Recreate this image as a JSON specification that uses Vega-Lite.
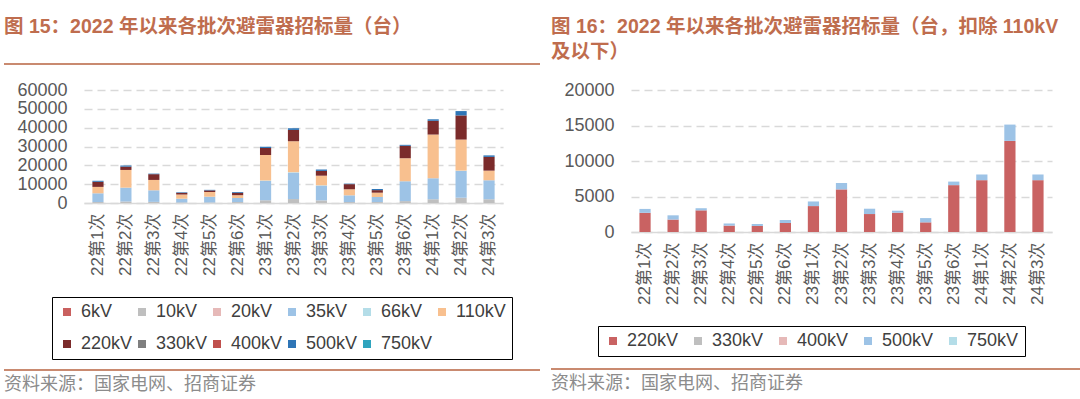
{
  "$schema": "https://vega.github.io/schema/vega-lite/v6.json",
  "background": "white",
  "padding": {"left": 4, "top": 16, "right": 0, "bottom": 0},
  "config": {
    "view": {"stroke": null},
    "font": "Liberation Sans, Noto Sans CJK SC"
  },
  "datasets": {
    "tb": [
      {"batch": "22第1次", "level": "10kV", "kv": 10, "value": 500},
      {"batch": "22第1次", "level": "35kV", "kv": 35, "value": 4650},
      {"batch": "22第1次", "level": "110kV", "kv": 110, "value": 3400},
      {"batch": "22第1次", "level": "220kV", "kv": 220, "value": 2700},
      {"batch": "22第1次", "level": "500kV", "kv": 500, "value": 550},
      {"batch": "22第2次", "level": "10kV", "kv": 10, "value": 800},
      {"batch": "22第2次", "level": "35kV", "kv": 35, "value": 7350},
      {"batch": "22第2次", "level": "110kV", "kv": 110, "value": 9400},
      {"batch": "22第2次", "level": "220kV", "kv": 220, "value": 1750},
      {"batch": "22第2次", "level": "500kV", "kv": 500, "value": 600},
      {"batch": "22第3次", "level": "10kV", "kv": 10, "value": 600},
      {"batch": "22第3次", "level": "35kV", "kv": 35, "value": 6150},
      {"batch": "22第3次", "level": "110kV", "kv": 110, "value": 5500},
      {"batch": "22第3次", "level": "220kV", "kv": 220, "value": 3050},
      {"batch": "22第3次", "level": "500kV", "kv": 500, "value": 300},
      {"batch": "22第4次", "level": "10kV", "kv": 10, "value": 300},
      {"batch": "22第4次", "level": "35kV", "kv": 35, "value": 2000},
      {"batch": "22第4次", "level": "110kV", "kv": 110, "value": 2200},
      {"batch": "22第4次", "level": "220kV", "kv": 220, "value": 900},
      {"batch": "22第4次", "level": "500kV", "kv": 500, "value": 300},
      {"batch": "22第5次", "level": "10kV", "kv": 10, "value": 300},
      {"batch": "22第5次", "level": "35kV", "kv": 35, "value": 3050},
      {"batch": "22第5次", "level": "110kV", "kv": 110, "value": 2500},
      {"batch": "22第5次", "level": "220kV", "kv": 220, "value": 850},
      {"batch": "22第5次", "level": "500kV", "kv": 500, "value": 280},
      {"batch": "22第6次", "level": "10kV", "kv": 10, "value": 500},
      {"batch": "22第6次", "level": "35kV", "kv": 35, "value": 2150},
      {"batch": "22第6次", "level": "110kV", "kv": 110, "value": 1500},
      {"batch": "22第6次", "level": "220kV", "kv": 220, "value": 1270},
      {"batch": "22第6次", "level": "500kV", "kv": 500, "value": 420},
      {"batch": "23第1次", "level": "10kV", "kv": 10, "value": 1400},
      {"batch": "23第1次", "level": "35kV", "kv": 35, "value": 10300},
      {"batch": "23第1次", "level": "66kV", "kv": 66, "value": 200},
      {"batch": "23第1次", "level": "110kV", "kv": 110, "value": 13650},
      {"batch": "23第1次", "level": "220kV", "kv": 220, "value": 3650},
      {"batch": "23第1次", "level": "500kV", "kv": 500, "value": 650},
      {"batch": "23第2次", "level": "10kV", "kv": 10, "value": 2100},
      {"batch": "23第2次", "level": "35kV", "kv": 35, "value": 14000},
      {"batch": "23第2次", "level": "66kV", "kv": 66, "value": 250},
      {"batch": "23第2次", "level": "110kV", "kv": 110, "value": 16450},
      {"batch": "23第2次", "level": "220kV", "kv": 220, "value": 6000},
      {"batch": "23第2次", "level": "500kV", "kv": 500, "value": 900},
      {"batch": "23第3次", "level": "10kV", "kv": 10, "value": 1400},
      {"batch": "23第3次", "level": "35kV", "kv": 35, "value": 7800},
      {"batch": "23第3次", "level": "66kV", "kv": 66, "value": 200},
      {"batch": "23第3次", "level": "110kV", "kv": 110, "value": 5100},
      {"batch": "23第3次", "level": "220kV", "kv": 220, "value": 2530},
      {"batch": "23第3次", "level": "500kV", "kv": 500, "value": 750},
      {"batch": "23第4次", "level": "10kV", "kv": 10, "value": 500},
      {"batch": "23第4次", "level": "35kV", "kv": 35, "value": 3580},
      {"batch": "23第4次", "level": "110kV", "kv": 110, "value": 3200},
      {"batch": "23第4次", "level": "220kV", "kv": 220, "value": 2720},
      {"batch": "23第4次", "level": "500kV", "kv": 500, "value": 280},
      {"batch": "23第5次", "level": "10kV", "kv": 10, "value": 500},
      {"batch": "23第5次", "level": "35kV", "kv": 35, "value": 2690},
      {"batch": "23第5次", "level": "110kV", "kv": 110, "value": 2290},
      {"batch": "23第5次", "level": "220kV", "kv": 220, "value": 1360},
      {"batch": "23第5次", "level": "500kV", "kv": 500, "value": 600},
      {"batch": "23第6次", "level": "10kV", "kv": 10, "value": 1000},
      {"batch": "23第6次", "level": "35kV", "kv": 35, "value": 10550},
      {"batch": "23第6次", "level": "110kV", "kv": 110, "value": 12230},
      {"batch": "23第6次", "level": "220kV", "kv": 220, "value": 6600},
      {"batch": "23第6次", "level": "500kV", "kv": 500, "value": 500},
      {"batch": "24第1次", "level": "10kV", "kv": 10, "value": 2000},
      {"batch": "24第1次", "level": "35kV", "kv": 35, "value": 11140},
      {"batch": "24第1次", "level": "110kV", "kv": 110, "value": 23200},
      {"batch": "24第1次", "level": "220kV", "kv": 220, "value": 7300},
      {"batch": "24第1次", "level": "500kV", "kv": 500, "value": 800},
      {"batch": "24第2次", "level": "10kV", "kv": 10, "value": 2800},
      {"batch": "24第2次", "level": "35kV", "kv": 35, "value": 14200},
      {"batch": "24第2次", "level": "66kV", "kv": 66, "value": 200},
      {"batch": "24第2次", "level": "110kV", "kv": 110, "value": 16480},
      {"batch": "24第2次", "level": "220kV", "kv": 220, "value": 12830},
      {"batch": "24第2次", "level": "500kV", "kv": 500, "value": 2300},
      {"batch": "24第3次", "level": "10kV", "kv": 10, "value": 2000},
      {"batch": "24第3次", "level": "35kV", "kv": 35, "value": 10070},
      {"batch": "24第3次", "level": "110kV", "kv": 110, "value": 5110},
      {"batch": "24第3次", "level": "220kV", "kv": 220, "value": 7300},
      {"batch": "24第3次", "level": "500kV", "kv": 500, "value": 800}
    ]
  },
  "resolve": {
    "scale": {"x": "independent", "y": "independent", "color": "independent"},
    "legend": {"color": "independent"}
  },
  "spacing": 11,
  "hconcat": [
    {
      "concat": [
        {
          "concat": [
            {
              "width": 536,
              "height": 2,
              "data": {"values": []},
              "mark": "rect",
              "encoding": {},
              "view": {"fill": "#c98a70", "stroke": null},
              "title": {
                "text": "图 15：2022 年以来各批次避雷器招标量（台）",
                "anchor": "start",
                "orient": "top",
                "baseline": "bottom",
                "offset": 7,
                "fontSize": 19.5,
                "fontWeight": "bold",
                "color": "#bf6d4e",
                "font": "Liberation Sans, Noto Sans CJK SC"
              }
            },
            {
              "width": 499,
              "height": 113,
              "data": {"name": "tb"},
              "mark": {"type": "bar"},
              "encoding": {
                "x": {
                  "field": "batch",
                  "type": "nominal",
                  "sort": ["22第1次", "22第2次", "22第3次", "22第4次", "22第5次", "22第6次", "23第1次", "23第2次", "23第3次", "23第4次", "23第5次", "23第6次", "24第1次", "24第2次", "24第3次"],
                  "scale": {"range": [80, 499], "paddingInner": 0.6, "paddingOuter": 0.3},
                  "axis": {
                    "title": null,
                    "labelAngle": -90,
                    "labelFontSize": 17,
                    "labelColor": "#595959",
                    "labelFont": "Liberation Sans, Noto Sans CJK SC",
                    "labelPadding": 10,
                    "ticks": false,
                    "domainColor": "#d9d9d9",
                    "domainWidth": 1.5
                  }
                },
                "y": {
                  "field": "value",
                  "type": "quantitative",
                  "stack": "zero",
                  "scale": {"domain": [0, 60000], "nice": false},
                  "axis": {
                    "title": null,
                    "values": [0, 10000, 20000, 30000, 40000, 50000, 60000],
                    "format": "d",
                    "domain": false,
                    "ticks": false,
                    "labelFontSize": 18,
                    "labelColor": "#595959",
                    "labelPadding": -63,
                    "gridColor": "#d9d9d9",
                    "gridWidth": 1.6,
                    "gridDash": [8, 5]
                  }
                },
                "color": {
                  "field": "level",
                  "type": "nominal",
                  "scale": {
                    "domain": ["6kV", "10kV", "20kV", "35kV", "66kV", "110kV", "220kV", "330kV", "400kV", "500kV", "750kV"],
                    "range": ["#c9605f", "#bfbfbf", "#e6b9b8", "#9dc3e6", "#b4dde8", "#f8c08f", "#7b2b2b", "#7f7f7f", "#c0504d", "#2e75b6", "#2fa4be"]
                  },
                  "legend": {
                    "title": null,
                    "orient": "none",
                    "legendX": 48,
                    "legendY": 234,
                    "direction": "horizontal",
                    "columns": 6,
                    "symbolType": "square",
                    "symbolSize": 64,
                    "symbolStrokeWidth": 0,
                    "labelFontSize": 18,
                    "labelColor": "#404040",
                    "labelOffset": 5,
                    "columnPadding": -10,
                    "rowPadding": 14,
                    "padding": 6,
                    "strokeColor": "#000000"
                  }
                },
                "order": {"field": "kv", "type": "quantitative", "sort": "ascending"}
              }
            }
          ],
          "columns": 1,
          "spacing": 16
        },
        {
          "width": 536,
          "height": 2,
          "data": {"values": []},
          "mark": "rect",
          "encoding": {},
          "view": {"fill": "#c98a70", "stroke": null},
          "title": {
            "text": "资料来源：国家电网、招商证券",
            "anchor": "start",
            "orient": "bottom",
            "baseline": "top",
            "offset": 5,
            "fontSize": 18,
            "fontWeight": "normal",
            "color": "#8c8c8c",
            "font": "Noto Sans CJK SC"
          }
        }
      ],
      "columns": 1,
      "spacing": 93
    },
    {
      "concat": [
        {
          "concat": [
            {
              "width": 529,
              "height": 2,
              "data": {"values": []},
              "mark": "rect",
              "encoding": {},
              "title": {
                "text": ["图 16：2022 年以来各批次避雷器招标量（台，扣除 110kV", "及以下）"],
                "anchor": "start",
                "orient": "top",
                "baseline": "bottom",
                "offset": -18,
                "lineHeight": 25,
                "fontSize": 19.5,
                "fontWeight": "bold",
                "color": "#bf6d4e",
                "font": "Liberation Sans, Noto Sans CJK SC"
              }
            },
            {
              "width": 501,
              "height": 142,
              "data": {"name": "tb"},
              "transform": [{"filter": {"field": "kv", "gte": 220}}],
              "mark": {"type": "bar"},
              "encoding": {
                "x": {
                  "field": "batch",
                  "type": "nominal",
                  "sort": ["22第1次", "22第2次", "22第3次", "22第4次", "22第5次", "22第6次", "23第1次", "23第2次", "23第3次", "23第4次", "23第5次", "23第6次", "24第1次", "24第2次", "24第3次"],
                  "scale": {"range": [80, 501], "paddingInner": 0.6, "paddingOuter": 0.3},
                  "axis": {
                    "title": null,
                    "labelAngle": -90,
                    "labelFontSize": 17,
                    "labelColor": "#595959",
                    "labelFont": "Liberation Sans, Noto Sans CJK SC",
                    "labelPadding": 10,
                    "ticks": false,
                    "domainColor": "#d9d9d9",
                    "domainWidth": 1.5
                  }
                },
                "y": {
                  "field": "value",
                  "type": "quantitative",
                  "stack": "zero",
                  "scale": {"domain": [0, 20000], "nice": false},
                  "axis": {
                    "title": null,
                    "values": [0, 5000, 10000, 15000, 20000],
                    "format": "d",
                    "domain": false,
                    "ticks": false,
                    "labelFontSize": 18,
                    "labelColor": "#595959",
                    "labelPadding": -63,
                    "gridColor": "#d9d9d9",
                    "gridWidth": 1.6,
                    "gridDash": [8, 5]
                  }
                },
                "color": {
                  "field": "level",
                  "type": "nominal",
                  "scale": {
                    "domain": ["220kV", "330kV", "400kV", "500kV", "750kV"],
                    "range": ["#c96262", "#bfbfbf", "#e6b9b8", "#9dc3e6", "#b4dde8"]
                  },
                  "legend": {
                    "title": null,
                    "orient": "none",
                    "legendX": 47,
                    "legendY": 263,
                    "direction": "horizontal",
                    "columns": 5,
                    "symbolType": "square",
                    "symbolSize": 64,
                    "symbolStrokeWidth": 0,
                    "labelFontSize": 18,
                    "labelColor": "#404040",
                    "labelOffset": 5,
                    "columnPadding": 10,
                    "padding": 6,
                    "strokeColor": "#000000"
                  }
                },
                "order": {"field": "kv", "type": "quantitative", "sort": "ascending"}
              }
            }
          ],
          "columns": 1,
          "spacing": 16
        },
        {
          "width": 529,
          "height": 2,
          "data": {"values": []},
          "mark": "rect",
          "encoding": {},
          "view": {"fill": "#c98a70", "stroke": null},
          "title": {
            "text": "资料来源：国家电网、招商证券",
            "anchor": "start",
            "orient": "bottom",
            "baseline": "top",
            "offset": 5,
            "fontSize": 18,
            "fontWeight": "normal",
            "color": "#8c8c8c",
            "font": "Noto Sans CJK SC"
          }
        }
      ],
      "columns": 1,
      "spacing": 63
    }
  ]
}
